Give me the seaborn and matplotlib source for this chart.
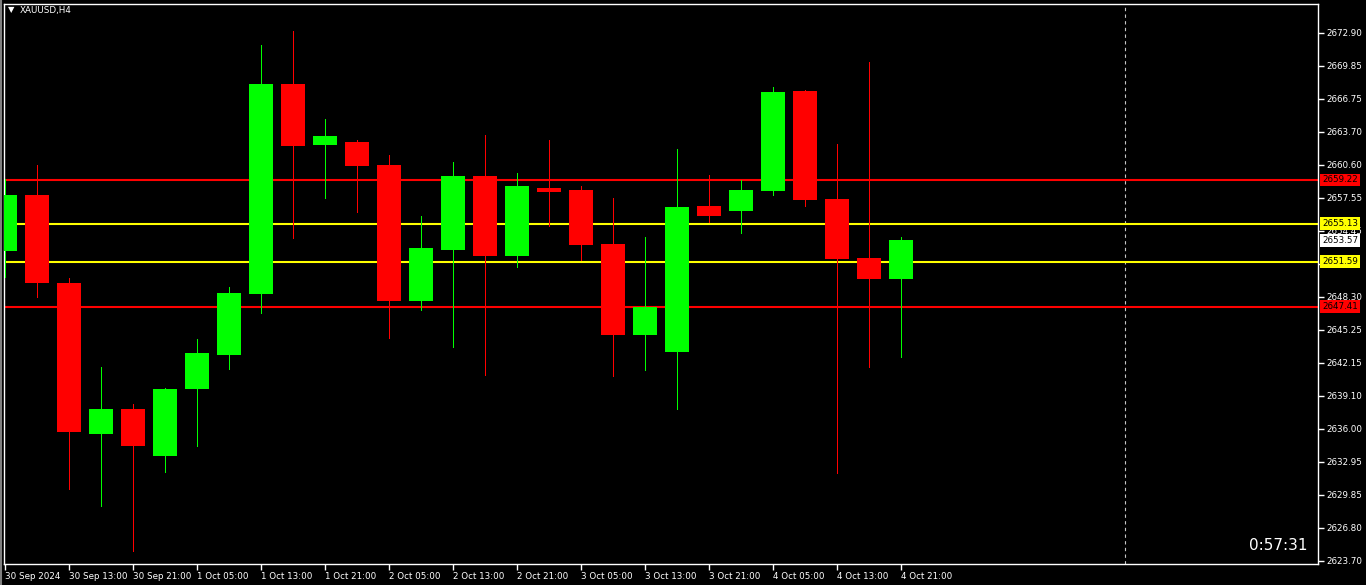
import numpy as np
import pandas as pd
import seaborn as sns
import matplotlib
matplotlib.use("Agg")
import matplotlib.pyplot as plt

# XAUUSD H4 candles (first one is cut by the left edge)
opens = [2652.61, 2657.80, 2649.63, 2635.56, 2637.86, 2633.51, 2639.76, 2642.92,
         2648.61, 2668.15, 2662.46, 2662.74, 2660.60, 2647.96, 2652.71, 2659.58,
         2652.15, 2658.46, 2658.27, 2653.24, 2644.79, 2643.20, 2656.78, 2656.34,
         2658.21, 2667.50, 2657.43, 2651.93, 2649.98]
highs = [2659.30, 2660.60, 2650.07, 2641.78, 2638.33, 2639.80, 2644.39, 2649.23,
         2671.78, 2673.09, 2664.89, 2662.93, 2661.53, 2655.85, 2660.88, 2663.40,
         2659.85, 2662.93, 2658.64, 2657.53, 2653.89, 2662.09, 2659.67, 2659.20,
         2667.87, 2667.59, 2662.56, 2670.20, 2653.89]
lows = [2650.19, 2648.33, 2630.44, 2628.85, 2624.66, 2632.02, 2634.44, 2641.62,
        2646.84, 2653.83, 2657.55, 2656.25, 2644.51, 2647.12, 2643.67, 2641.03,
        2651.12, 2654.94, 2651.78, 2640.97, 2641.53, 2637.89, 2655.32, 2654.29,
        2657.83, 2656.81, 2631.93, 2641.81, 2642.74]
closes = [2657.80, 2649.63, 2635.75, 2637.86, 2634.44, 2639.73, 2643.08, 2648.67,
          2668.15, 2662.40, 2663.30, 2660.53, 2647.96, 2652.87, 2659.58, 2652.15,
          2658.64, 2658.11, 2653.17, 2644.79, 2647.37, 2656.69, 2655.88, 2658.27,
          2667.40, 2657.37, 2651.84, 2649.98, 2653.57]

time_labels = ["30 Sep 2024", "30 Sep 13:00", "30 Sep 21:00", "1 Oct 05:00",
               "1 Oct 13:00", "1 Oct 21:00", "2 Oct 05:00", "2 Oct 13:00",
               "2 Oct 21:00", "3 Oct 05:00", "3 Oct 13:00", "3 Oct 21:00",
               "4 Oct 05:00", "4 Oct 13:00", "4 Oct 21:00"]
price_ticks = [2623.70, 2626.80, 2629.85, 2632.95, 2636.00, 2639.10, 2642.15,
               2645.25, 2648.30, 2651.40, 2654.45, 2657.55, 2660.60, 2663.70,
               2666.75, 2669.85, 2672.90]
red_levels = [2659.22, 2647.41]
yellow_levels = [2655.13, 2651.59]
last_price = 2653.57

df = pd.DataFrame({"open": opens, "high": highs, "low": lows, "close": closes})
df["bar"] = np.arange(len(df))
df["up"] = df["close"] >= df["open"]
df["color"] = np.where(df["up"], "#00ff00", "#ff0000")

sns.set_theme(style="dark", rc={
    "figure.facecolor": "black", "axes.facecolor": "black",
    "axes.edgecolor": "white", "axes.linewidth": 1.0,
    "text.color": "white", "xtick.color": "white", "ytick.color": "white",
    "axes.grid": False,
})
plt.rcParams["font.family"] = ["DejaVu Sans"]

W, H = 1366, 585
fig = plt.figure(figsize=(W / 100, H / 100), dpi=100)
ax = fig.add_axes([4 / W, (H - 564) / H, (1318 - 4) / W, (564 - 4) / H])

# wicks and bodies
ax.vlines(df["bar"], df["low"], df["high"], colors=df["color"], lw=0.72,
          antialiased=False, snap=True, zorder=3)
body_lo = df[["open", "close"]].min(axis=1)
body_h = (df["close"] - df["open"]).abs()
ax.bar(df["bar"], body_h, bottom=body_lo, width=0.78, color=df["color"],
       linewidth=0, zorder=4)

# level lines
for lv in red_levels:
    ax.axhline(lv, color="#ff0000", lw=1.5, zorder=2)
for lv in yellow_levels:
    ax.axhline(lv, color="#ffff00", lw=1.5, zorder=2)

# chart shift line
ax.axvline(35, color="#c8c8c8", lw=0.8, ls=(0, (3, 3)), zorder=1)

ax.set_xlim(-1 / 32, 1313 / 32)
ax.set_ylim(2623.42, 2675.60)

ax.set_xticks(np.arange(0, 2 * len(time_labels), 2))
ax.set_xticklabels(time_labels, ha="left", fontsize=6.3)
ax.set_yticks(price_ticks)
# 2651.40 sits under the yellow price tag, as on the terminal
ax.set_yticklabels(["" if p == 2651.40 else f"{p:.2f}" for p in price_ticks], fontsize=6.3)
ax.yaxis.tick_right()
ax.tick_params(axis="x", direction="out", length=4, width=1, pad=2, bottom=True)
ax.tick_params(axis="y", direction="out", length=4, width=1, pad=2, right=True, left=False)
for s in ax.spines.values():
    s.set_color("white")
    s.set_linewidth(1.0)

# price tags on the right scale
tags = [(red_levels[0], "#ff0000"), (yellow_levels[0], "#ffff00"),
        (last_price, "#ffffff"), (yellow_levels[1], "#ffff00"),
        (red_levels[1], "#ff0000")]
for price, col in tags:
    ax.annotate(f"{price:.2f}", xy=(1.0, price), xycoords=("axes fraction", "data"),
                xytext=(4, 0), textcoords="offset pixels", ha="left", va="center",
                fontsize=6.3, color="black", annotation_clip=False, zorder=10,
                bbox=dict(boxstyle="square,pad=0.2", fc=col, ec="none"))

# window border on the far left
fig.add_artist(plt.Line2D([1 / W, 1 / W], [0, 1], color="#808080", lw=1.5))

fig.text(11 / W, 1 - 10 / H, "\u25bc", fontsize=6, ha="center", va="center", color="white")
fig.text(20 / W, 1 - 11 / H, "XAUUSD,H4", fontsize=6.3, ha="left", va="center", color="white")
fig.text(1307 / W, 1 - 545 / H, "0:57:31", fontsize=11, ha="right", va="center", color="white")

fig.savefig("out.png", dpi=100, facecolor="black")
